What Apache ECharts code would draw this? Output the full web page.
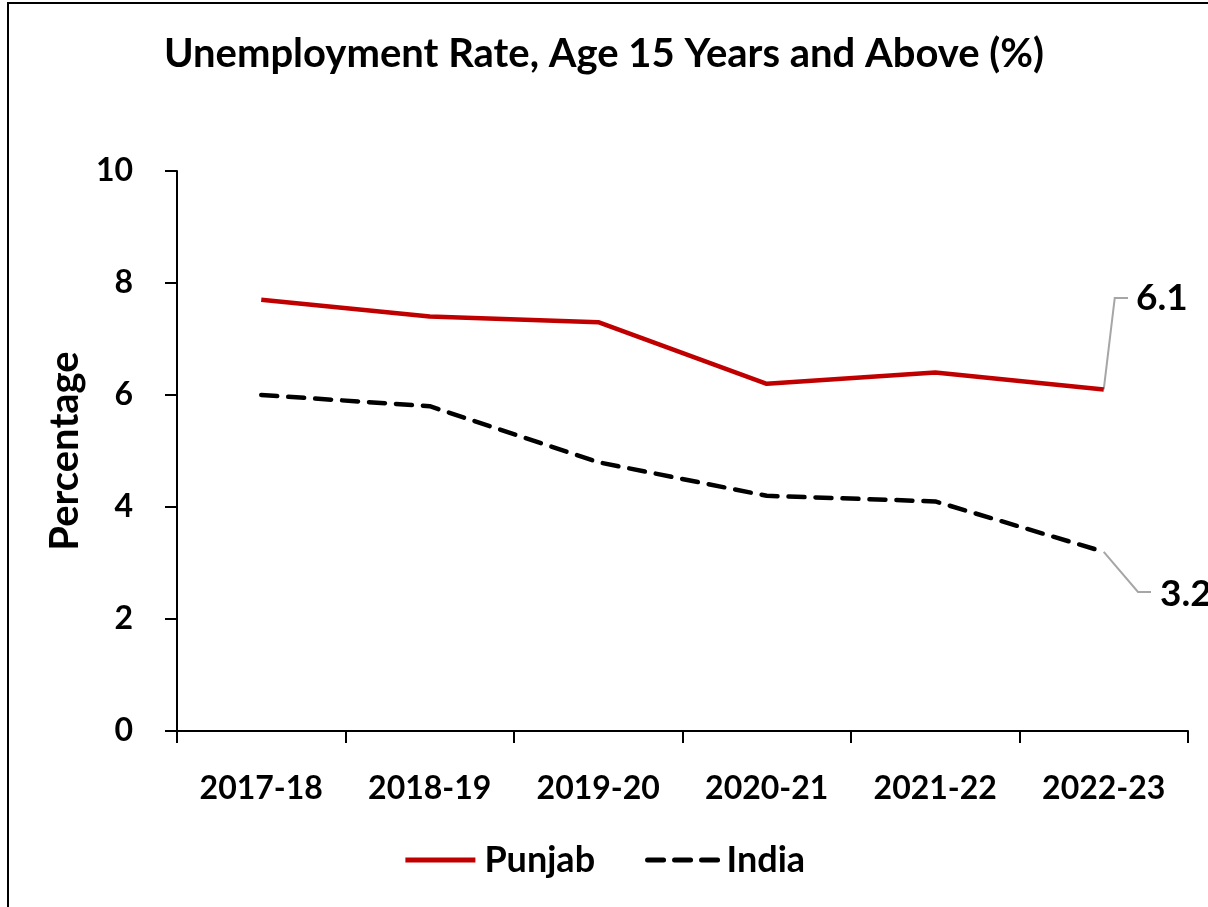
<!DOCTYPE html>
<html>
<head>
<meta charset="utf-8">
<script src="https://cdn.jsdelivr.net/npm/echarts@6/dist/echarts.min.js"></script>
<style>
  html, body { margin: 0; padding: 0; background: #fff; }
  #chart { width: 1208px; height: 907px; }
</style>
</head>
<body>
<div id="chart"></div>
<script>
var years = ["2017-18", "2018-19", "2019-20", "2020-21", "2021-22", "2022-23"];
var punjab = [7.7, 7.4, 7.3, 6.2, 6.4, 6.1];
var india = [6.0, 5.8, 4.8, 4.2, 4.1, 3.2];

var FONT = "Lato";
var chart = echarts.init(document.getElementById("chart"));

// only the last point carries a label
function lastLabel(arr) {
  return arr.map(function (v, i) {
    if (i !== arr.length - 1) return v;
    return { value: v, label: { show: true } };
  });
}

var option = {
  backgroundColor: "#fff",
  textStyle: { fontFamily: FONT },
  animation: false,
  title: {
    text: "Unemployment Rate, Age 15 Years and Above (%)",
    left: "center",
    top: 29,
    textStyle: { fontFamily: FONT, fontSize: 40, fontWeight: "bold", color: "#000" }
  },
  legend: {
    bottom: 24,
    left: "center",
    itemWidth: 70,
    itemHeight: 14,
    itemGap: 50,
    itemStyle: { opacity: 0 },
    lineStyle: { width: 5 },
    textStyle: { fontFamily: FONT, fontSize: 36, fontWeight: "bold", color: "#000", padding: [0, 0, 0, 4] },
    data: ["Punjab", "India"]
  },
  grid: { left: 177, right: 20, top: 171, bottom: 176 },
  xAxis: {
    type: "category",
    data: years,
    boundaryGap: true,
    axisLine: { lineStyle: { color: "#000", width: 2 } },
    axisTick: { show: true, length: 12, inside: false, lineStyle: { color: "#000", width: 2 } },
    axisLabel: { margin: 42, fontFamily: FONT, fontSize: 32, fontWeight: "bold", color: "#000" }
  },
  yAxis: {
    type: "value",
    min: 0,
    max: 10,
    interval: 2,
    name: "Percentage",
    nameLocation: "middle",
    nameGap: 88,
    nameTextStyle: { fontFamily: FONT, fontSize: 40, fontWeight: "bold", color: "#000" },
    axisLine: { show: true, lineStyle: { color: "#000", width: 2 } },
    axisTick: { show: true, length: 12, lineStyle: { color: "#000", width: 2 } },
    splitLine: { show: false },
    axisLabel: { margin: 44, fontFamily: FONT, fontSize: 32, fontWeight: "bold", color: "#000" }
  },
  series: [
    {
      name: "Punjab",
      type: "line",
      data: lastLabel(punjab),
      symbol: "circle",
      symbolSize: 0,
      showSymbol: true,
      itemStyle: { color: "#C00000" },
      lineStyle: { color: "#C00000", width: 4.5 },
      label: {
        show: false,
        fontFamily: FONT,
        fontSize: 37,
        fontWeight: "bold",
        color: "#000"
      },
      labelLayout: function () {
        return { x: 1136, y: 298, align: "left", verticalAlign: "middle" };
      }
    },
    {
      name: "India",
      type: "line",
      data: lastLabel(india),
      symbol: "circle",
      symbolSize: 0,
      showSymbol: true,
      itemStyle: { color: "#000" },
      lineStyle: { color: "#000", width: 4.5, type: [16, 11], cap: "round" },
      label: {
        show: false,
        fontFamily: FONT,
        fontSize: 37,
        fontWeight: "bold",
        color: "#000"
      },
      labelLayout: function () {
        return { x: 1160, y: 594, align: "left", verticalAlign: "middle" };
      }
    }
  ]
};

chart.setOption(option);

// frame + gray leader lines from the last points to their labels
var last = years.length - 1;
var pP = chart.convertToPixel({ seriesIndex: 0 }, [last, punjab[last]]);
var pI = chart.convertToPixel({ seriesIndex: 1 }, [last, india[last]]);
var leader = { stroke: "#A6A6A6", lineWidth: 2, fill: "none" };
chart.setOption({
  graphic: [
    {
      type: "rect",
      shape: { x: 8, y: 3, width: 1260, height: 960 },
      style: { fill: "none", stroke: "#000", lineWidth: 2 },
      silent: true
    },
    {
      type: "polyline",
      shape: { points: [pP, [pP[0] + 11, 298], [1128, 298]] },
      style: leader,
      z: 1,
      silent: true
    },
    {
      type: "polyline",
      shape: { points: [pI, [1138, 592], [1151, 592]] },
      style: leader,
      z: 1,
      silent: true
    }
  ]
});
</script>
</body>
</html>
